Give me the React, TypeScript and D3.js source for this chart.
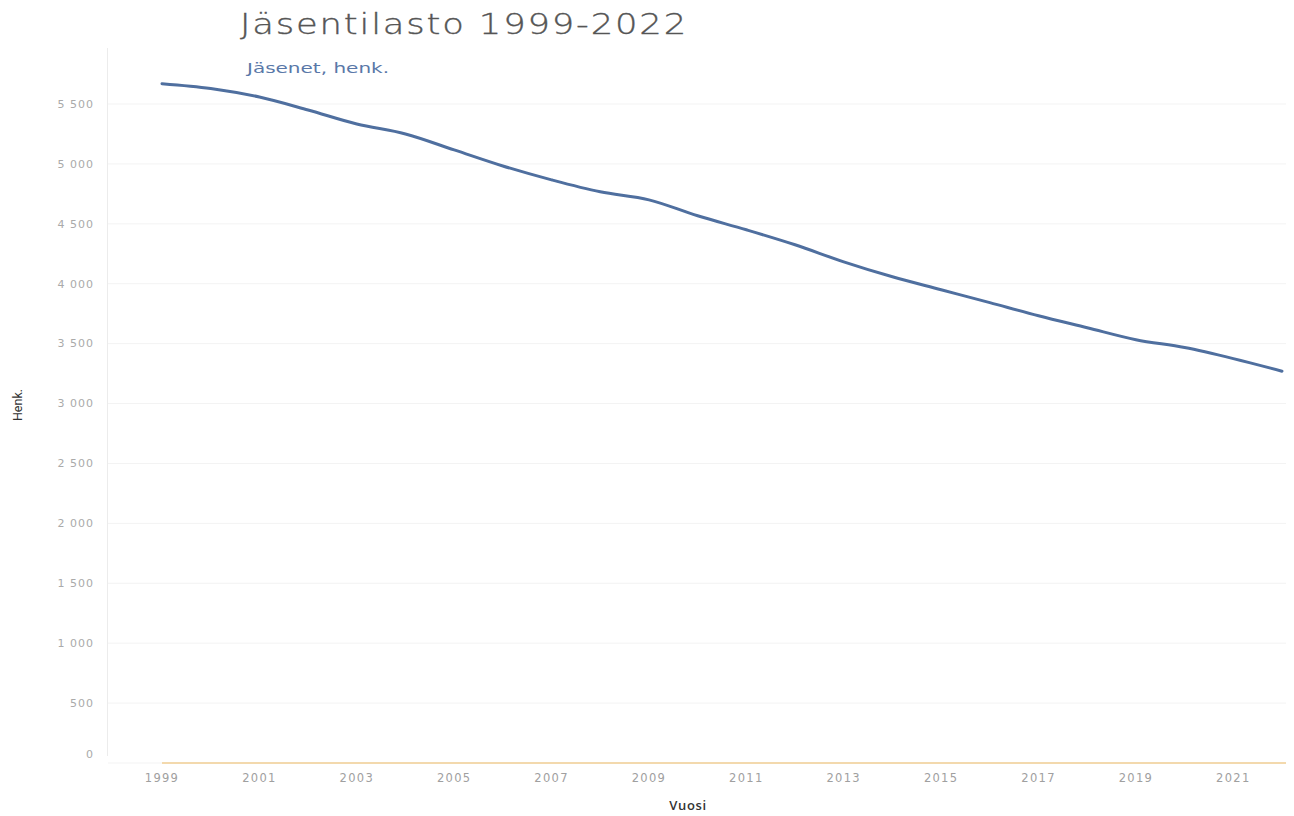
import React from "react";
import * as d3 from "d3";

const years: number[] = [1999, 2000, 2001, 2002, 2003, 2004, 2005, 2006, 2007, 2008, 2009, 2010, 2011, 2012, 2013, 2014, 2015, 2016, 2017, 2018, 2019, 2020, 2021, 2022];
const members: number[] = [5670, 5630, 5558, 5450, 5333, 5250, 5117, 4983, 4867, 4767, 4700, 4567, 4450, 4325, 4183, 4058, 3950, 3842, 3733, 3633, 3533, 3467, 3375, 3270];
const yTicks: number[] = [0, 500, 1000, 1500, 2000, 2500, 3000, 3500, 4000, 4500, 5000, 5500];
const xTicks: number[] = [1999, 2001, 2003, 2005, 2007, 2009, 2011, 2013, 2015, 2017, 2019, 2021];

const W = 1294;
const H = 816;

export default function App() {
  const x = d3.scaleLinear().domain([1999, 2022]).range([162, 1282]);
  const y = d3.scaleLinear().domain([0, 5500]).range([763, 104]);
  const fmt = (v: number) => d3.format(",")(v).replace(/,/g, " ");

  const line = d3
    .line<number>()
    .x((_, i) => x(years[i]))
    .y((d) => y(d))
    .curve(d3.curveMonotoneX);

  const font = "'DejaVu Sans', 'Open Sans', sans-serif";
  const font2 = "'Open Sans', 'DejaVu Sans', sans-serif";

  return (
    <svg
      width={W}
      height={H}
      style={{ position: "absolute", left: 0, top: 0, background: "#fff" }}
    >
      <text
        x={240}
        y={34}
        fontFamily={font}
        fontSize={29}
        fontWeight={200}
        fill="#555"
        stroke="#555"
        strokeWidth={0.35}
        letterSpacing={1.5}
        textLength={448}
        lengthAdjust="spacingAndGlyphs"
      >
        Jäsentilasto 1999-2022
      </text>

      {/* gridlines */}
      {yTicks.map((t) => (
        <line
          key={"g" + t}
          x1={108}
          x2={1286}
          y1={y(t)}
          y2={y(t)}
          stroke="#f3f3f3"
          strokeWidth={1}
        />
      ))}
      <line x1={107.5} x2={107.5} y1={48} y2={756} stroke="#ececec" strokeWidth={1} />

      {/* y tick labels */}
      {yTicks.map((t) => (
        <text
          key={"y" + t}
          x={94}
          y={t === 0 ? 754 : y(t)}
          dy="0.35em"
          textAnchor="end"
          fontFamily={font}
          fontSize={11}
          fill="#aaa"
          letterSpacing={1}
        >
          {fmt(t)}
        </text>
      ))}

      {/* x tick labels */}
      {xTicks.map((t) => (
        <text
          key={"x" + t}
          x={x(t)}
          y={778}
          dy="0.35em"
          textAnchor="middle"
          fontFamily={font}
          fontSize={11.5}
          fill="#a0a0a0"
          letterSpacing={1.3}
        >
          {t}
        </text>
      ))}

      {/* baseline */}
      <line
        x1={x(years[0])}
        x2={x(years[years.length - 1]) + 4}
        y1={y(0)}
        y2={y(0)}
        stroke="#f3d9ad"
        strokeWidth={2}
      />

      {/* series */}
      <path d={line(members) || ""} fill="none" stroke="#4f6f9f" strokeWidth={3} strokeLinecap="round" />

      <text
        x={247}
        y={68}
        dy="0.35em"
        fontFamily={font}
        fontSize={13.5}
        fill="#5a78a8"
        textLength={142}
        lengthAdjust="spacingAndGlyphs"
      >
        Jäsenet, henk.
      </text>

      <text
        x={688}
        y={805}
        dy="0.35em"
        textAnchor="middle"
        fontFamily={font2}
        fontSize={13}
        fontWeight={600}
        fill="#333"
        letterSpacing={0.7}
      >
        Vuosi
      </text>

      <text
        transform={`translate(18,405) rotate(-90)`}
        dy="0.35em"
        textAnchor="middle"
        fontFamily="'Liberation Sans Narrow', 'Roboto', sans-serif"
        fontSize={12.5}
        fill="#333"
      >
        Henk.
      </text>
    </svg>
  );
}
